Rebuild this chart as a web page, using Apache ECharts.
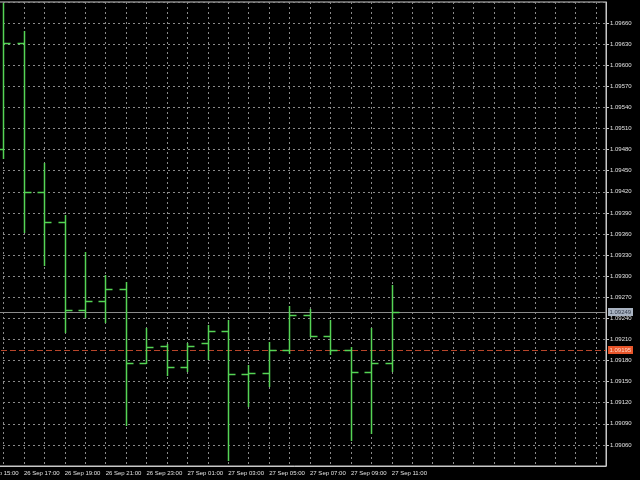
<!DOCTYPE html>
<html>
<head>
<meta charset="utf-8">
<script src="https://cdn.jsdelivr.net/npm/echarts@6/dist/echarts.min.js"></script>
<style>
html,body{margin:0;padding:0;background:#000;overflow:hidden;width:640px;height:480px;}
#c{position:absolute;left:-20px;top:0;width:660px;height:480px;}
</style>
</head>
<body>
<div id="c"></div>
<script>
// time labels: index 0 = 26 Sep 15:00 (only partly visible at left edge)
var timeLabels = [
  '26 Sep 15:00','26 Sep 16:00','26 Sep 17:00','26 Sep 18:00','26 Sep 19:00','26 Sep 20:00',
  '26 Sep 21:00','26 Sep 22:00','26 Sep 23:00','27 Sep 00:00','27 Sep 01:00','27 Sep 02:00',
  '27 Sep 03:00','27 Sep 04:00','27 Sep 05:00','27 Sep 06:00','27 Sep 07:00','27 Sep 08:00',
  '27 Sep 09:00','27 Sep 10:00','27 Sep 11:00'
];
// bars start at 26 Sep 16:00
var barTimes = timeLabels.slice(1);
var opens  = [1.09480,1.09632,1.09420,1.09377,1.09252,1.09264,1.09281,1.09176,1.09200,1.09170,
              1.09205,1.09222,1.09161,1.09162,1.09194,1.09245,1.09214,1.09194,1.09163,1.09176];
var highs  = [1.09688,1.09649,1.09461,1.09387,1.09335,1.09302,1.09292,1.09226,1.09204,1.09205,
              1.09231,1.09238,1.09174,1.09207,1.09257,1.09253,1.09238,1.09199,1.09227,1.09288];
var lows   = [1.09466,1.09361,1.09315,1.09219,1.09240,1.09233,1.09087,1.09175,1.09158,1.09164,
              1.09181,1.09037,1.09114,1.09143,1.09190,1.09213,1.09188,1.09065,1.09075,1.09164];
var closes = [1.09632,1.09420,1.09377,1.09252,1.09264,1.09281,1.09176,1.09199,1.09170,1.09201,
              1.09222,1.09161,1.09162,1.09195,1.09245,1.09214,1.09194,1.09163,1.09176,1.09249];
var priceLevels = [1.09249, 1.09195];   // bid line, dashed level line
var priceMin = 1.0903, priceMax = 1.0969, priceStep = 0.0003;

// axis range in bar slots (slot -1 = 26 Sep 15:00)
var xMin = -1, xMax = 29.48;

var barData = barTimes.map(function (t, i) { return [i, opens[i], highs[i], lows[i], closes[i]]; });
var gridSlots = [];
for (var g = xMin; g <= xMax; g++) gridSlots.push([g]);
var levelData = priceLevels.map(function (p) { return [p]; });

var GREEN = '#55d455';
var GRIDC = '#8a8a8a';
var FONT = "'Liberation Sans',sans-serif";
var levelStyles = [
  { line: '#8c8c8c', dash: null, box: '#a9b3c1', text: '#303848' },
  { line: '#b8452a', dash: [6, 3], box: '#e8552a', text: '#ffd8c8' }
];

function crisp(p) { return Math.floor(Math.round(p * 2) / 2) + 0.5; }

var chart = echarts.init(document.getElementById('c'));
chart.setOption({
  backgroundColor: '#000000',
  animation: false,
  grid: {
    left: 0, right: 34, top: 2, bottom: 14,
    show: true, borderColor: '#c8c8c8', borderWidth: 1, backgroundColor: '#000000'
  },
  xAxis: {
    type: 'value',
    min: xMin, max: xMax, interval: 1,
    axisLine: { show: true, onZero: false, lineStyle: { color: '#c8c8c8', width: 1 } },
    axisTick: { show: false },
    splitLine: { show: false },
    axisLabel: {
      color: '#e0e0e0', fontSize: 6, fontFamily: FONT, align: 'left', margin: 4,
      padding: [0, 0, 0, 0], showMinLabel: true, showMaxLabel: false,
      formatter: function (v) {
        if (Math.abs(v - Math.round(v)) > 1e-6) return '';
        var idx = Math.round(v) + 1;
        if (idx >= 0 && idx < timeLabels.length && idx % 2 === 0) return timeLabels[idx];
        return '';
      }
    }
  },
  yAxis: {
    type: 'value', position: 'right',
    min: priceMin, max: priceMax, interval: priceStep,
    axisLine: { show: true, onZero: false, lineStyle: { color: '#c8c8c8', width: 1 } },
    axisTick: { show: true, length: 3, lineStyle: { color: '#c8c8c8' } },
    splitLine: { show: true, lineStyle: { color: GRIDC, width: 1, type: [2, 3] } },
    axisLabel: {
      color: '#e0e0e0', fontSize: 6, fontFamily: FONT, margin: 4,
      showMinLabel: false, showMaxLabel: false,
      formatter: function (v) { return v.toFixed(5); }
    }
  },
  series: [
    {
      // vertical grid lines, one per hourly slot
      type: 'custom', z: 1, silent: true, clip: true,
      data: gridSlots,
      encode: { x: 0 },
      renderItem: function (params, api) {
        var cs = params.coordSys;
        var p = api.coord([api.value(0), priceMin]);
        var x = crisp(p[0]);
        return {
          type: 'line',
          shape: { x1: x, y1: cs.y, x2: x, y2: cs.y + cs.height },
          style: { stroke: GRIDC, lineWidth: 1, lineDash: [2, 3] }
        };
      }
    },
    {
      // price level lines with their axis labels
      type: 'custom', z: 2, silent: true, clip: false,
      data: levelData,
      encode: { y: 0 },
      renderItem: function (params, api) {
        var cs = params.coordSys;
        var price = api.value(0);
        var st = levelStyles[params.dataIndex];
        var y = crisp(api.coord([xMin, price])[1]);
        var xr = cs.x + cs.width;
        return {
          type: 'group',
          children: [
            { type: 'line', shape: { x1: cs.x, y1: y, x2: xr, y2: y },
              style: { stroke: st.line, lineWidth: 1, lineDash: st.dash } },
            { type: 'rect', shape: { x: xr + 2, y: y - 4.5, width: 25, height: 8 },
              style: { fill: st.box } },
            { type: 'text', x: xr + 3.5, y: y,
              style: { text: price.toFixed(5), fill: st.text, font: '6px ' + FONT,
                       verticalAlign: 'middle', align: 'left' } }
          ]
        };
      }
    },
    {
      // OHLC bars
      type: 'custom', z: 3, clip: true,
      data: barData,
      encode: { x: 0, y: [1, 2, 3, 4] },
      renderItem: function (params, api) {
        var x = api.value(0);
        var pH = api.coord([x, api.value(2)]);
        var pL = api.coord([x, api.value(3)]);
        var pO = api.coord([x, api.value(1)]);
        var pC = api.coord([x, api.value(4)]);
        var xs = crisp(pH[0]);
        var yo = crisp(pO[1]);
        var yc = crisp(pC[1]);
        var st = { stroke: GREEN, lineWidth: 1.5 };
        return {
          type: 'group',
          children: [
            { type: 'line', shape: { x1: xs, y1: Math.round(pH[1]), x2: xs, y2: Math.round(pL[1]) }, style: st },
            { type: 'line', shape: { x1: xs - 7, y1: yo, x2: xs, y2: yo }, style: st },
            { type: 'line', shape: { x1: xs, y1: yc, x2: xs + 7, y2: yc }, style: st }
          ]
        };
      }
    }
  ]
});
</script>
</body>
</html>
